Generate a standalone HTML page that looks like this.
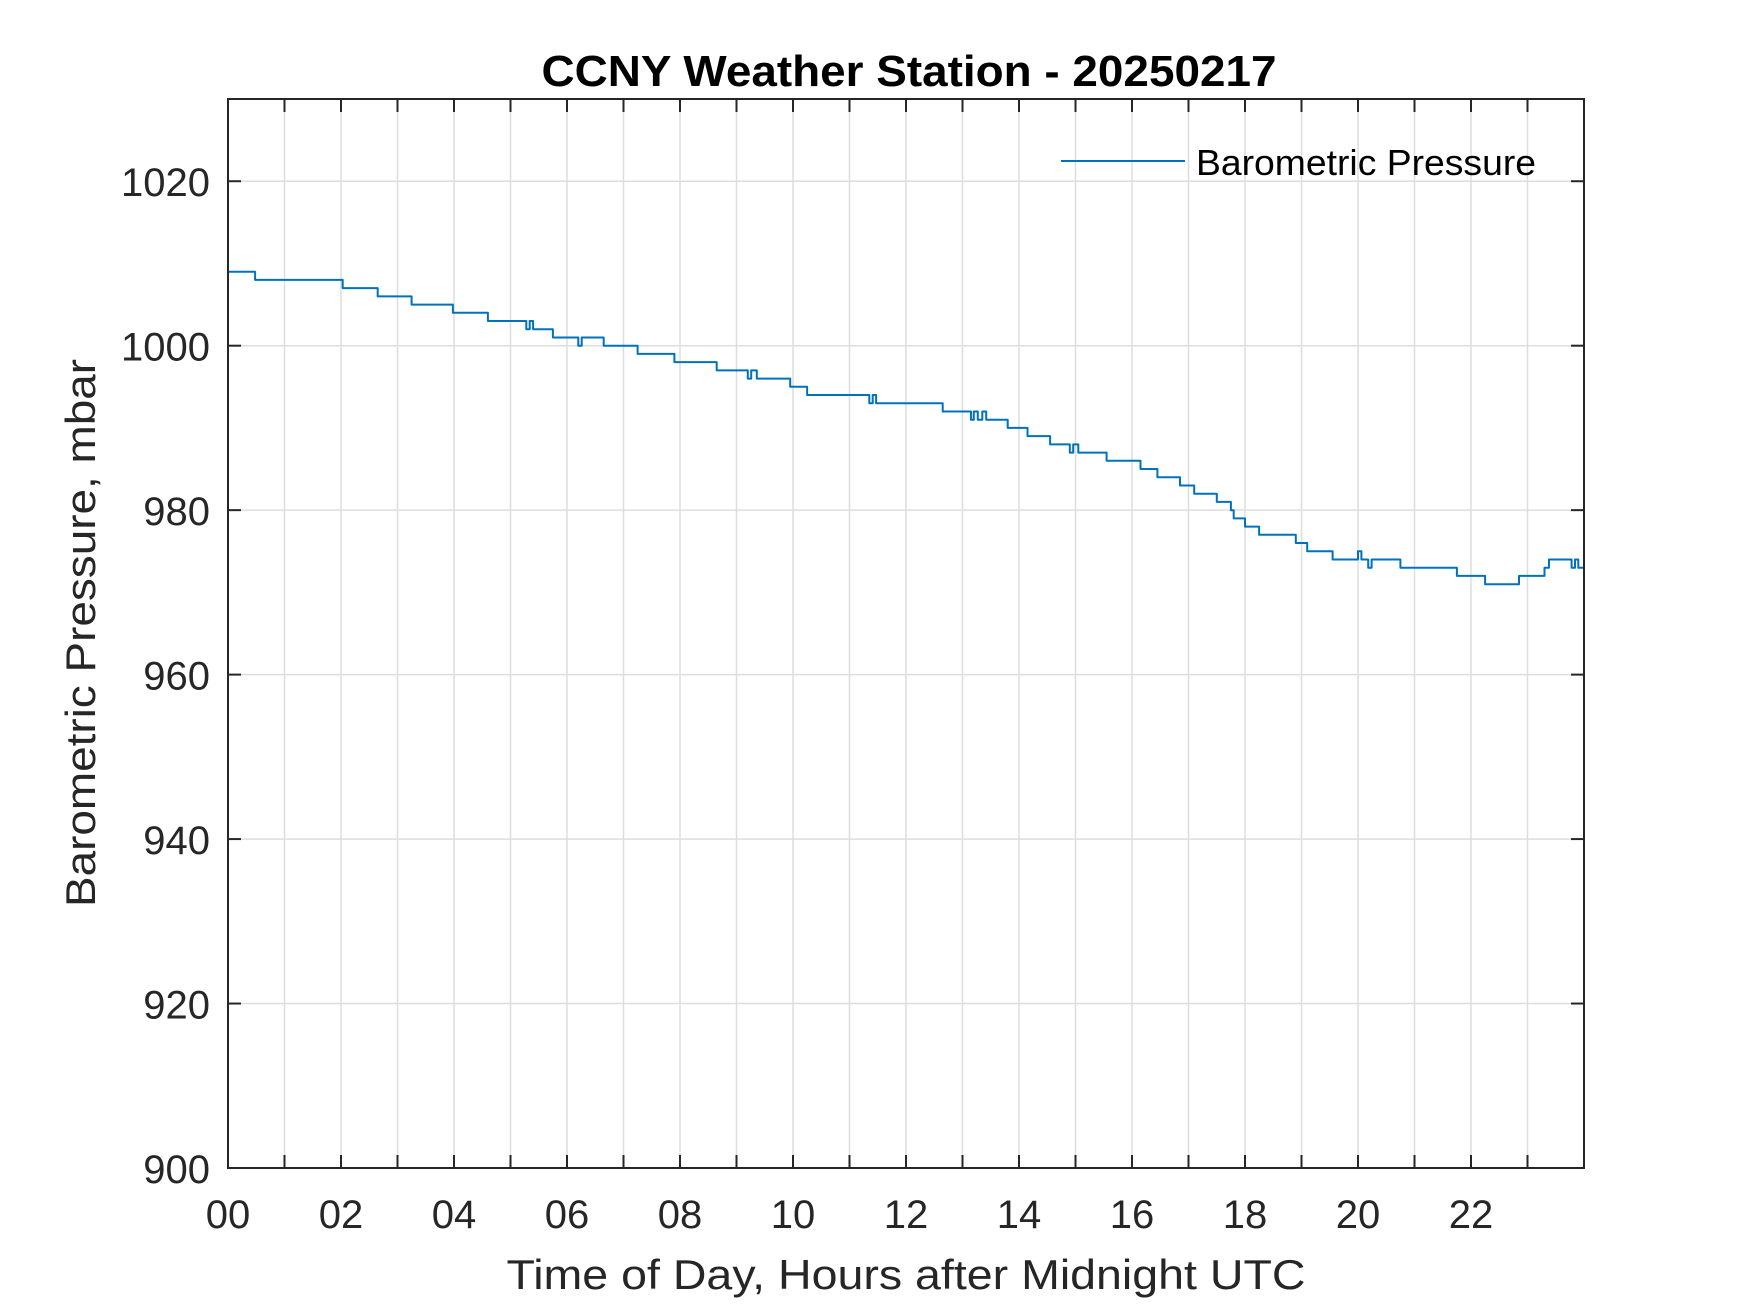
<!DOCTYPE html>
<html>
<head>
<meta charset="utf-8">
<style>
  html, body { margin: 0; padding: 0; background: #ffffff; }
  svg { display: block; }
  text { font-family: "Liberation Sans", Arial, sans-serif; }
</style>
</head>
<body>
<svg id="chart" width="1750" height="1313" viewBox="0 0 1750 1313" xmlns="http://www.w3.org/2000/svg">
  <rect x="0" y="0" width="1750" height="1313" fill="#ffffff"/>
  <g id="grid"></g>
  <g id="series"></g>
  <g id="axes"></g>
  <text x="909" y="86" text-anchor="middle" font-size="44" font-weight="bold" fill="#000" textLength="735" lengthAdjust="spacingAndGlyphs">CCNY Weather Station - 20250217</text>
  <text x="906" y="1289" text-anchor="middle" font-size="42" fill="#262626" textLength="799" lengthAdjust="spacingAndGlyphs">Time of Day, Hours after Midnight UTC</text>
  <text transform="translate(95,633) rotate(-90)" text-anchor="middle" font-size="42" fill="#262626" textLength="548" lengthAdjust="spacingAndGlyphs">Barometric Pressure, mbar</text>
  <g>
    <line x1="1061" y1="161" x2="1185" y2="161" stroke="#0072BD" stroke-width="2"/>
    <text x="1196" y="175" font-size="36" fill="#000" textLength="340" lengthAdjust="spacingAndGlyphs">Barometric Pressure</text>
  </g>
</svg>
<script>
// ---- chart data ----
const stepTimes = [0, 0.48, 2.03, 2.65, 3.25, 3.98, 4.6, 5.28, 5.34, 5.4, 5.75, 6.2, 6.26, 6.65, 7.25, 7.9, 8.65, 9.2, 9.26, 9.36, 9.95, 10.25, 11.35, 11.41, 11.47, 12.65, 13.15, 13.2, 13.27, 13.35, 13.42, 13.8, 14.15, 14.55, 14.9, 14.96, 15.05, 15.55, 16.15, 16.45, 16.85, 17.1, 17.5, 17.75, 17.8, 18.0, 18.25, 18.9, 19.1, 19.55, 20.0, 20.06, 20.18, 20.24, 20.75, 21.75, 22.25, 22.85, 23.3, 23.38, 23.78, 23.84, 23.9, 23.95];
const stepValues = [1009, 1008, 1007, 1006, 1005, 1004, 1003, 1002, 1003, 1002, 1001, 1000, 1001, 1000, 999, 998, 997, 996, 997, 996, 995, 994, 993, 994, 993, 992, 991, 992, 991, 992, 991, 990, 989, 988, 987, 988, 987, 986, 985, 984, 983, 982, 981, 980, 979, 978, 977, 976, 975, 974, 975, 974, 973, 974, 973, 972, 971, 972, 973, 974, 973, 974, 973, 973];
const endTime = 24;
const xTickValues = [0, 2, 4, 6, 8, 10, 12, 14, 16, 18, 20, 22];
const xTickLabels = ["00", "02", "04", "06", "08", "10", "12", "14", "16", "18", "20", "22"];
const xMinorTicks = [0,1,2,3,4,5,6,7,8,9,10,11,12,13,14,15,16,17,18,19,20,21,22,23,24];
const yTickValues = [900, 920, 940, 960, 980, 1000, 1020];
const yTickLabels = ["900", "920", "940", "960", "980", "1000", "1020"];

// ---- geometry ----
const L = 228, R = 1584, T = 99, B = 1168;
const X0 = 0, X1 = 24, Y0 = 900, Y1 = 1030;
const xs = v => L + (v - X0) / (X1 - X0) * (R - L);
const ys = v => B - (v - Y0) / (Y1 - Y0) * (B - T);
const NS = "http://www.w3.org/2000/svg";
function mk(tag, attrs, parent) {
  const e = document.createElementNS(NS, tag);
  for (const k in attrs) e.setAttribute(k, attrs[k]);
  parent.appendChild(e);
  return e;
}
const grid = document.getElementById('grid');
const axes = document.getElementById('axes');
const series = document.getElementById('series');

xMinorTicks.forEach(v => {
  if (v === X0 || v === X1) return;
  const g = mk('line', {x1: xs(v), y1: T, x2: xs(v), y2: B, stroke: '#dedede', 'stroke-width': 1.5}, grid);
  
  
});
yTickValues.forEach(v => {
  const g = mk('line', {x1: L, y1: ys(v), x2: R, y2: ys(v), stroke: '#dedede', 'stroke-width': 1.5}, grid);
  
  
});

let d = '';
for (let i = 0; i < stepTimes.length; i++) {
  const x = xs(stepTimes[i]);
  const y = ys(stepValues[i]);
  d += (i === 0 ? 'M' : 'L') + x.toFixed(1) + ',' + y.toFixed(1);
  const xn = xs(i + 1 < stepTimes.length ? stepTimes[i + 1] : endTime);
  d += 'L' + xn.toFixed(1) + ',' + y.toFixed(1);
}
const path = mk('path', {d: d, fill: 'none', stroke: '#0072BD', 'stroke-width': 2, 'stroke-linejoin': 'round'}, series);



const box = mk('rect', {x: L, y: T, width: R - L, height: B - T, fill: 'none', stroke: '#262626', 'stroke-width': 2}, axes);



xMinorTicks.forEach(v => {
  const x = xs(v);
  const t1 = mk('line', {x1: x, y1: B, x2: x, y2: B - 13, stroke: '#262626', 'stroke-width': 2}, axes);
  
  
  const t2 = mk('line', {x1: x, y1: T, x2: x, y2: T + 13, stroke: '#262626', 'stroke-width': 2}, axes);
  
  
});
xTickValues.forEach((v, i) => {
  const t = mk('text', {x: xs(v), y: 1228, 'text-anchor': 'middle', 'font-size': 40, fill: '#262626'}, axes);
  t.textContent = xTickLabels[i];
  
  
});

yTickValues.forEach((v, i) => {
  const y = ys(v);
  const t1 = mk('line', {x1: L, y1: y, x2: L + 13, y2: y, stroke: '#262626', 'stroke-width': 2}, axes);
  
  
  const t2 = mk('line', {x1: R, y1: y, x2: R - 13, y2: y, stroke: '#262626', 'stroke-width': 2}, axes);
  
  
  const t = mk('text', {x: 210, y: y + 15, 'text-anchor': 'end', 'font-size': 40, fill: '#262626'}, axes);
  t.textContent = yTickLabels[i];
  
  
});
</script>
</body>
</html>
